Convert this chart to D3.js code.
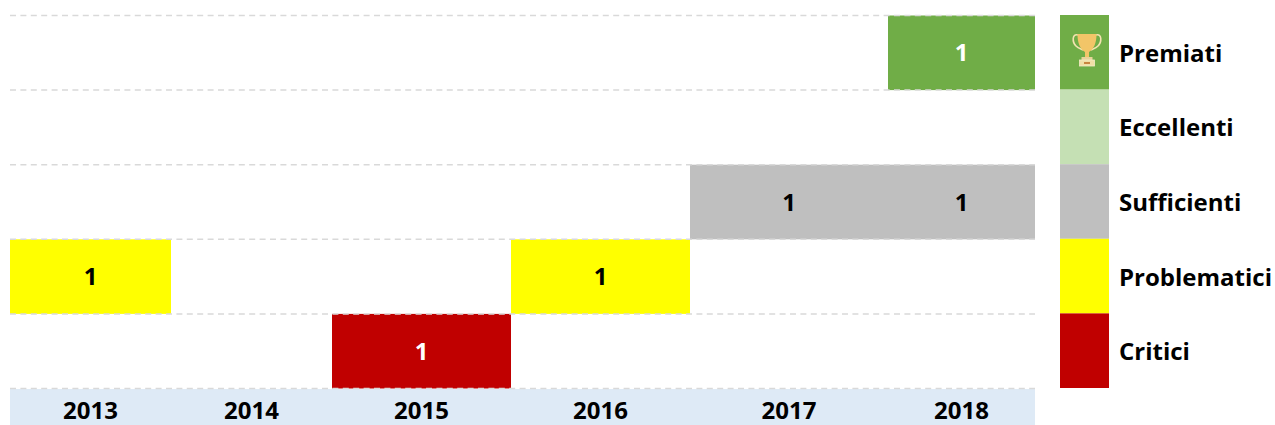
<!DOCTYPE html>
<html>
<head>
<meta charset="utf-8">
<script src="https://cdn.jsdelivr.net/npm/d3@7"></script>
<style>
  html, body { margin: 0; padding: 0; background: #fff; }
  text { font-family: "Open Sans", sans-serif; font-weight: 700; }
</style>
</head>
<body>
<svg id="chart" width="1275" height="425"></svg>
<script>
// Data
const years = ["2013", "2014", "2015", "2016", "2017", "2018"];
const categories = ["Premiati", "Eccellenti", "Sufficienti", "Problematici", "Critici"];
const premiati = [0, 0, 0, 0, 0, 1];
const eccellenti = [0, 0, 0, 0, 0, 0];
const sufficienti = [0, 0, 0, 0, 1, 1];
const problematici = [1, 0, 0, 1, 0, 0];
const critici = [0, 0, 1, 0, 0, 0];
const series = [premiati, eccellenti, sufficienti, problematici, critici];

const svg = d3.select("#chart");

// The columns in the original are not the same width, so edges are listed per year
const columnEdges = [10, 171, 332, 511, 690, 888, 1035];
const xLeft = d3.scaleOrdinal().domain(years).range(columnEdges);
const xRight = d3.scaleOrdinal().domain(years).range(columnEdges.slice(1));

const y = d3.scaleBand().domain(categories).range([15.5, 388.5]);
const color = d3.scaleOrdinal()
    .domain(categories)
    .range(["#70ad47", "#c5e0b4", "#bfbfbf", "#ffff00", "#c00000"]);
const labelColor = d3.scaleOrdinal()
    .domain(categories)
    .range(["#ffffff", "#000000", "#000000", "#000000", "#ffffff"]);

// Year strip under the grid
svg.append("rect")
    .attr("x", 10).attr("y", 389)
    .attr("width", 1025).attr("height", 36)
    .attr("fill", "#deeaf6");

// Cells with a value
const cells = categories.flatMap((c, i) =>
    years.map((yr, j) => ({ category: c, year: yr, value: series[i][j] })))
    .filter(d => d.value > 0);

svg.selectAll("rect.cell")
    .data(cells)
    .enter()
    .append("rect")
    .attr("class", "cell")
    .attr("x", d => xLeft(d.year))
    .attr("y", d => y(d.category))
    .attr("width", d => xRight(d.year) - xLeft(d.year))
    .attr("height", y.bandwidth())
    .attr("fill", d => color(d.category));

// Dashed gridlines
svg.selectAll("line.grid")
    .data([...categories.map(c => y(c)), y.range()[1]])
    .enter()
    .append("line")
    .attr("class", "grid")
    .attr("x1", 10).attr("x2", 1035)
    .attr("y1", d => d).attr("y2", d => d)
    .attr("stroke", "#d9d9d9")
    .attr("stroke-width", 1.5)
    .attr("stroke-dasharray", "6 4.4");

// Cell values
svg.selectAll("text.value")
    .data(cells)
    .enter()
    .append("text")
    .attr("class", "value")
    .attr("x", d => (xLeft(d.year) + xRight(d.year)) / 2)
    .attr("y", d => y(d.category) + y.bandwidth() / 2 + 8.5)
    .attr("text-anchor", "middle")
    .attr("font-size", 24)
    .attr("fill", d => labelColor(d.category))
    .text(d => d.value);

// Year labels
svg.selectAll("text.year")
    .data(years)
    .enter()
    .append("text")
    .attr("class", "year")
    .attr("x", d => (xLeft(d) + xRight(d)) / 2)
    .attr("y", 419)
    .attr("text-anchor", "middle")
    .attr("font-size", 24)
    .attr("fill", "#000")
    .text(d => d);

// Legend column on the right
svg.selectAll("rect.legend")
    .data(categories)
    .enter()
    .append("rect")
    .attr("class", "legend")
    .attr("x", 1060)
    .attr("y", d => y(d) - 0.5)
    .attr("width", 49)
    .attr("height", y.bandwidth())
    .attr("fill", d => color(d));

svg.selectAll("text.legend")
    .data(categories)
    .enter()
    .append("text")
    .attr("class", "legend")
    .attr("x", 1119)
    .attr("y", d => y(d) + y.bandwidth() / 2 + 9)
    .attr("font-size", 24)
    .attr("fill", "#000")
    .text(d => d);

// Trophy icon on the Premiati legend cell
const trophy = svg.append("g").attr("transform", "translate(1073,33)");
trophy.append("path")
    .attr("d", "M5 2 C-1 0 -1 9 3 13 C5 15 8 16 10 17 M23 2 C29 0 29 9 25 13 C23 15 20 16 18 17")
    .attr("fill", "none").attr("stroke", "#f3e3b0").attr("stroke-width", 1.6);
trophy.append("path")
    .attr("d", "M4.5 1 L23.5 1 C23.5 10 21 16 16 19 L16 24 L12 24 L12 19 C7 16 4.5 10 4.5 1 Z")
    .attr("fill", "#f2c568");
trophy.append("rect")
    .attr("x", 8.5).attr("y", 24).attr("width", 11).attr("height", 3.5).attr("fill", "#e8d49a");
trophy.append("rect")
    .attr("x", 6.5).attr("y", 27).attr("width", 15).attr("height", 6)
    .attr("fill", "#f1dfa6").attr("stroke", "#f5ecc8").attr("stroke-width", 0.8);
trophy.append("rect")
    .attr("x", 11).attr("y", 29).attr("width", 6).attr("height", 2).attr("fill", "#c9853f");
</script>
</body>
</html>
